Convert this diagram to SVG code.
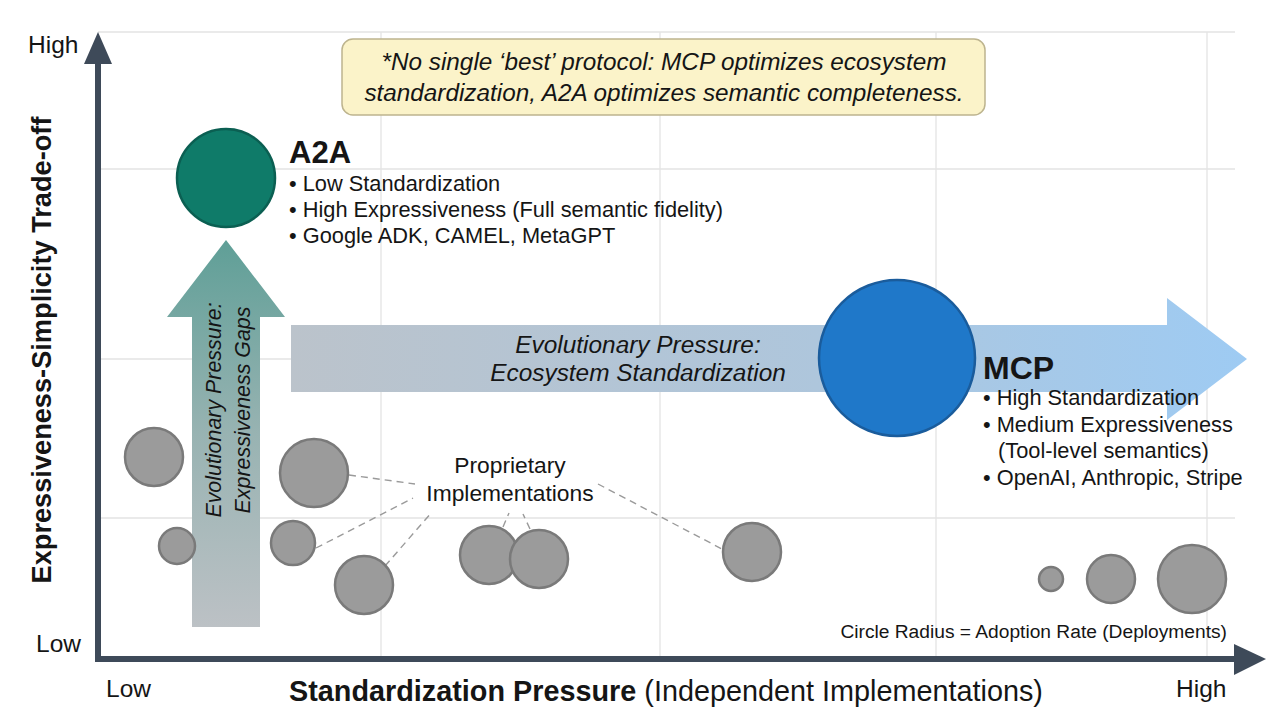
<svg xmlns="http://www.w3.org/2000/svg" width="1280" height="720" viewBox="0 0 1280 720">
<style>
text{font-family:"Liberation Sans",Arial,sans-serif;fill:#151515}
.grid{stroke:#e3e3e3;stroke-width:1.3;fill:none}
.axis{stroke:#3e4a59;stroke-width:6;fill:none}
.axhead{fill:#3e4a59}
.gc{fill:#9b9b9b;stroke:#7a7a7a;stroke-width:2.5}
.lead{stroke:#9a9a9a;stroke-width:1.4;stroke-dasharray:7 5;fill:none}
.bul{font-size:21.8px}
.mbul{font-size:21.8px}
.ital{font-style:italic}
.lbl{font-size:24.4px}
.vlbl{font-size:21.4px}
.tick{font-size:24.5px}
</style>
<defs>
<linearGradient id="vgrad" x1="0" y1="1" x2="0" y2="0">
<stop offset="0" stop-color="#bcc1c5"/>
<stop offset="0.5" stop-color="#98b3b2"/>
<stop offset="1" stop-color="#5f9f97"/>
</linearGradient>
<linearGradient id="hgrad" x1="0" y1="0" x2="1" y2="0">
<stop offset="0" stop-color="#bbc3cb"/>
<stop offset="0.55" stop-color="#aec6dc"/>
<stop offset="1" stop-color="#9ecbf3"/>
</linearGradient>
</defs>
<rect width="1280" height="720" fill="#ffffff"/>
<g id="grid">
<line class="grid" x1="98" y1="32" x2="1235" y2="32"/>
<line class="grid" x1="98" y1="169" x2="1235" y2="169"/>
<line class="grid" x1="98" y1="359" x2="1235" y2="359"/>
<line class="grid" x1="98" y1="518" x2="1235" y2="518"/>
<line class="grid" x1="381" y1="32" x2="381" y2="658"/>
<line class="grid" x1="660" y1="32" x2="660" y2="658"/>
<line class="grid" x1="936" y1="32" x2="936" y2="658"/>
<line class="grid" x1="1207" y1="32" x2="1207" y2="658"/>
</g>
<g id="axes">
<line class="axis" x1="98" y1="662" x2="98" y2="58"/>
<polygon class="axhead" points="84,64 98,32 112,64"/>
<line class="axis" x1="95" y1="659" x2="1240" y2="659"/>
<polygon class="axhead" points="1234,644 1266,659 1234,675"/>
<text class="tick" x="28" y="53">High</text>
<text class="tick" x="36" y="652">Low</text>
<text class="tick" x="106" y="697">Low</text>
<text class="tick" x="1176" y="697">High</text>
<text x="666" y="701" font-size="28.8" text-anchor="middle"><tspan font-weight="bold">Standardization Pressure</tspan> (Independent Implementations)</text>
<text transform="translate(51,350) rotate(-90)" font-size="27.2" font-weight="bold" text-anchor="middle">Expressiveness-Simplicity Trade-off</text>
</g>
<g id="note">
<rect x="342" y="39" width="643" height="76" rx="11" fill="#fbf3c9" stroke="#bdb48e" stroke-width="1.5"/>
<text class="ital" x="664" y="70" font-size="24.3" text-anchor="middle">*No single ‘best’ protocol: MCP optimizes ecosystem</text>
<text class="ital" x="664" y="101" font-size="24.3" text-anchor="middle">standardization, A2A optimizes semantic completeness.</text>
</g>
<g id="pressure-expressiveness">
<polygon points="192,627 192,317 167,317 226,240 285,317 260,317 260,627" fill="url(#vgrad)"/>
<text class="ital vlbl" transform="translate(221,410) rotate(-90)" text-anchor="middle">Evolutionary Pressure:</text>
<text class="ital vlbl" transform="translate(250,410) rotate(-90)" text-anchor="middle">Expressiveness Gaps</text>
</g>
<g id="pressure-standardization">
<polygon points="291,325 1167,325 1167,298 1247,359 1167,420 1167,392 291,392" fill="url(#hgrad)"/>
<text class="ital lbl" x="638" y="353" text-anchor="middle">Evolutionary Pressure:</text>
<text class="ital lbl" x="638" y="381" text-anchor="middle">Ecosystem Standardization</text>
</g>
<g id="a2a">
<circle cx="226" cy="178" r="49" fill="#0f7b69" stroke="#0b5f52" stroke-width="2.5"/>
<text x="289" y="163" font-size="31" font-weight="bold">A2A</text>
<text class="bul" x="289" y="191">• Low Standardization</text>
<text class="bul" x="289" y="217">• High Expressiveness (Full semantic fidelity)</text>
<text class="bul" x="289" y="243">• Google ADK, CAMEL, MetaGPT</text>
</g>
<g id="mcp">
<circle cx="897" cy="358" r="78" fill="#1f78c9" stroke="#1a5c9c" stroke-width="2.5"/>
<text x="983" y="379" font-size="32" font-weight="bold">MCP</text>
<text class="mbul" x="983" y="405">• High Standardization</text>
<text class="mbul" x="983" y="432">• Medium Expressiveness</text>
<text class="mbul" x="998" y="458">(Tool-level semantics)</text>
<text class="mbul" x="983" y="485">• OpenAI, Anthropic, Stripe</text>
</g>
<g id="connectors">
<line class="lead" x1="349" y1="475" x2="415" y2="484"/>
<line class="lead" x1="316" y1="548" x2="413" y2="498"/>
<line class="lead" x1="385" y1="566" x2="432" y2="512"/>
<line class="lead" x1="503" y1="527" x2="509" y2="513"/>
<line class="lead" x1="530" y1="529" x2="523" y2="514"/>
<line class="lead" x1="598" y1="484" x2="722" y2="549"/>
</g>
<g id="proprietary">
<circle class="gc" cx="154" cy="457" r="29"/>
<circle class="gc" cx="177" cy="546" r="18"/>
<circle class="gc" cx="314" cy="473" r="34"/>
<circle class="gc" cx="293" cy="543" r="22"/>
<circle class="gc" cx="364" cy="585" r="29"/>
<circle class="gc" cx="489" cy="555" r="29"/>
<circle class="gc" cx="539" cy="559" r="29"/>
<circle class="gc" cx="752" cy="552" r="29"/>
<text x="510" y="473" font-size="22.8" text-anchor="middle">Proprietary</text>
<text x="510" y="501" font-size="22.8" text-anchor="middle">Implementations</text>
</g>
<g id="legend">
<circle class="gc" cx="1051" cy="579" r="12"/>
<circle class="gc" cx="1111" cy="579" r="24"/>
<circle class="gc" cx="1192" cy="579" r="34"/>
<text x="1227" y="638" font-size="19.2" text-anchor="end">Circle Radius = Adoption Rate (Deployments)</text>
</g>
</svg>
